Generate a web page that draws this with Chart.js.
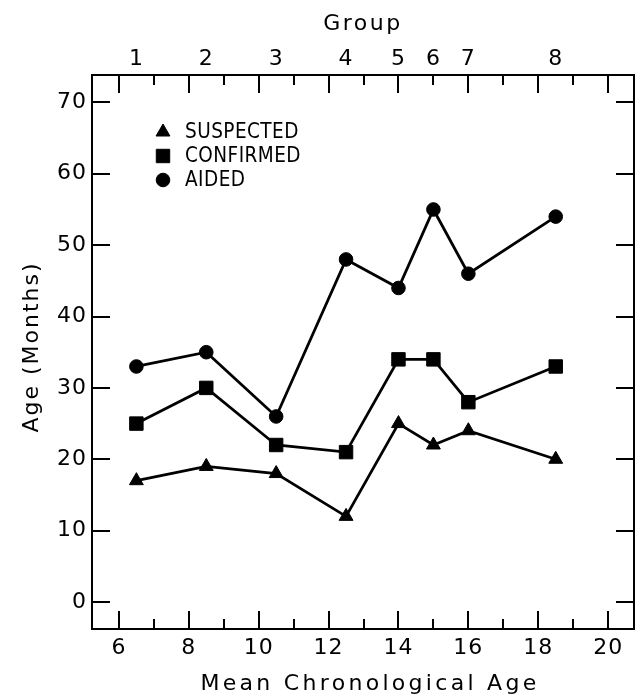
<!DOCTYPE html>
<html><head><meta charset="utf-8">
<script src="https://cdn.jsdelivr.net/npm/chart.js@4/dist/chart.umd.min.js"></script>
<style>html,body{margin:0;padding:0;background:#fff}#wrap{width:637px;height:695px}</style>
</head><body><div id="wrap"><canvas id="c" width="637" height="695"></canvas></div>
<script>
// Data
const chronAge = [6.5, 8.5, 10.5, 12.5, 14, 15, 16, 18.5];
const groupLabels = ['1', '2', '3', '4', '5', '6', '7', '8'];
const suspected = [17, 19, 18, 12, 25, 22, 24, 20];
const confirmed = [25, 30, 22, 21, 34, 34, 28, 33];
const aided = [33, 35, 26, 48, 44, 55, 46, 54];
const xTickValues = [6, 7, 8, 9, 10, 11, 12, 13, 14, 15, 16, 17, 18, 19, 20];
const yTickValues = [0, 10, 20, 30, 40, 50, 60, 70];

const FONT = "'DejaVu Sans', sans-serif";
const toPts = arr => chronAge.map((x, i) => ({ x: x, y: arr[i] }));
const titleStyle = {
  x: { spacing: '3.3px', dx: 7, dy: 0 },
  x2: { spacing: '2.5px', dx: 0, dy: 0 },
  y: { spacing: '2px', dx: 0, dy: -5 }
};

const spacingPlugin = {
  id: 'spacing',
  beforeUpdate(chart) { chart.ctx.letterSpacing = '1px'; },
  beforeDraw(chart) {
    chart.ctx.letterSpacing = '1px';
    Object.values(chart.scales).forEach(s => {
      const st = titleStyle[s.id];
      if (!s._lsPatched && st) {
        const orig = s.drawTitle;
        s.drawTitle = function () {
          const c = this.ctx;
          c.save();
          c.letterSpacing = st.spacing;
          c.translate(st.dx, st.dy);
          orig.apply(this, arguments);
          c.restore();
        };
        s._lsPatched = true;
      }
    });
  }
};

const ticksPlugin = {
  id: 'inTicks',
  beforeDatasetsDraw(chart) {
    const { ctx, chartArea: { left, right, top, bottom }, scales: { x, y } } = chart;
    ctx.save();
    ctx.strokeStyle = '#000';
    ctx.lineWidth = 2;
    ctx.beginPath();
    xTickValues.forEach(v => {
      const px = Math.round(x.getPixelForValue(v));
      const len = v % 2 === 0 ? 18 : 10;
      ctx.moveTo(px, bottom); ctx.lineTo(px, bottom - len);
      ctx.moveTo(px, top); ctx.lineTo(px, top + len);
    });
    yTickValues.forEach(v => {
      const py = Math.round(y.getPixelForValue(v));
      ctx.moveTo(left, py); ctx.lineTo(left + 18, py);
      ctx.moveTo(right, py); ctx.lineTo(right - 18, py);
    });
    ctx.stroke();
    ctx.restore();
  }
};

const legendPlugin = {
  id: 'inLegend',
  afterDatasetsDraw(chart) {
    const ctx = chart.ctx;
    ctx.save();
    ctx.letterSpacing = '0.5px';
    ctx.fillStyle = '#000';
    ctx.strokeStyle = '#000';
    ctx.font = '21px ' + FONT;
    ctx.textAlign = 'left';
    ctx.textBaseline = 'middle';
    chart.data.datasets.forEach((ds, i) => {
      const yy = 132 + i * 24;
      Chart.helpers.drawPoint(ctx, { pointStyle: ds.pointStyle, radius: ds.pointRadius, rotation: 0, borderWidth: 1 }, 163, yy);
      ctx.save();
      ctx.translate(185, yy + 1);
      ctx.scale(0.88, 1);
      ctx.fillText(ds.label, 0, 0);
      ctx.restore();
    });
    ctx.restore();
  }
};

const common = {
  borderColor: '#000', backgroundColor: '#000',
  pointBackgroundColor: '#000', pointBorderColor: '#000',
  pointBorderWidth: 1, borderWidth: 2.8, tension: 0,
  xAxisID: 'x', yAxisID: 'y'
};

new Chart(document.getElementById('c'), {
  type: 'line',
  data: {
    datasets: [
      Object.assign({ label: 'SUSPECTED', data: toPts(suspected), pointStyle: 'triangle', pointRadius: 8 }, common),
      Object.assign({ label: 'CONFIRMED', data: toPts(confirmed), pointStyle: 'rect', pointRadius: 9.5 }, common),
      Object.assign({ label: 'AIDED', data: toPts(aided), pointStyle: 'circle', pointRadius: 6.8 }, common)
    ]
  },
  options: {
    responsive: false,
    animation: false,
    devicePixelRatio: 1,
    layout: { padding: 0, autoPadding: false },
    plugins: { legend: { display: false }, tooltip: { enabled: false } },
    scales: {
      x: {
        type: 'linear', position: 'bottom', min: 5.23, max: 20.74,
        afterBuildTicks: s => { s.ticks = xTickValues.map(v => ({ value: v })); },
        afterFit: s => { s.height = 66; },
        ticks: { autoSkip: false, maxRotation: 0, padding: 6, color: '#000', font: { family: FONT, size: 22 },
          callback: v => (v % 2 === 0 ? String(v) : '') },
        grid: { display: false, drawTicks: false },
        border: { display: true, color: '#000', width: 2 },
        title: { display: true, text: 'Mean Chronological Age', color: '#000', font: { family: FONT, size: 22 }, padding: { top: 0, bottom: -2 } }
      },
      x2: {
        type: 'linear', position: 'top', min: 5.23, max: 20.74,
        afterBuildTicks: s => { s.ticks = chronAge.map(v => ({ value: v })); },
        afterFit: s => { s.height = 75; },
        ticks: { autoSkip: false, maxRotation: 0, padding: 3, color: '#000', font: { family: FONT, size: 22 },
          callback: (v, i) => groupLabels[i] },
        grid: { display: false, drawTicks: false },
        border: { display: true, color: '#000', width: 2 },
        title: { display: true, text: 'Group', color: '#000', font: { family: FONT, size: 22 }, padding: { top: 11, bottom: 0 } }
      },
      y: {
        type: 'linear', position: 'left', min: -3.78, max: 73.84,
        afterBuildTicks: s => { s.ticks = yTickValues.map(v => ({ value: v })); },
        afterFit: s => { s.width = 92; },
        ticks: { padding: 5, color: '#000', font: { family: FONT, size: 22 } },
        grid: { display: false, drawTicks: false },
        border: { display: true, color: '#000', width: 2 },
        title: { display: true, text: 'Age (Months)', color: '#000', font: { family: FONT, size: 22 }, padding: { top: 19, bottom: 0 } }
      },
      y2: {
        type: 'linear', position: 'right', min: -3.78, max: 73.84,
        afterBuildTicks: s => { s.ticks = yTickValues.map(v => ({ value: v })); },
        afterFit: s => { s.width = 3; },
        ticks: { display: false },
        grid: { display: false, drawTicks: false },
        border: { display: true, color: '#000', width: 2 }
      }
    }
  },
  plugins: [spacingPlugin, ticksPlugin, legendPlugin]
});
</script>
</body></html>
